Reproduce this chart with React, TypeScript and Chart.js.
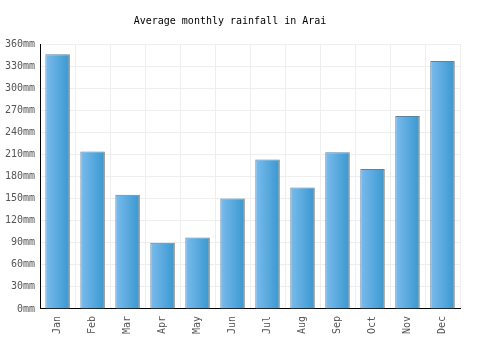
import React, { useEffect, useRef } from "react";
import { Chart, registerables } from "chart.js";

Chart.register(...registerables);

const months = ["Jan", "Feb", "Mar", "Apr", "May", "Jun", "Jul", "Aug", "Sep", "Oct", "Nov", "Dec"];
const rainfall = [346, 214, 155, 90, 97, 150, 203, 165, 213, 190, 262, 337];
const titleText = "Average monthly rainfall in Arai";

export default function App() {
  const ref = useRef<HTMLCanvasElement | null>(null);
  useEffect(() => {
    document.body.style.margin = "0";
    const canvas = ref.current!;
    const font = "'DejaVu Sans Mono', monospace";
    const chart = new Chart(canvas, {
      type: "bar",
      data: {
        labels: months,
        datasets: [
          {
            data: rainfall,
            backgroundColor: (ctx: any) => {
              const c = ctx.chart;
              const xs = c.scales?.x;
              if (!xs || ctx.dataIndex === undefined) return "#55a7dd";
              const cx = xs.getPixelForValue(ctx.dataIndex);
              const w = (xs.width / months.length) * 0.7;
              if (!isFinite(cx) || !isFinite(w) || w <= 0) return "#55a7dd";
              const g = c.ctx.createLinearGradient(cx - w / 2, 0, cx + w / 2, 0);
              g.addColorStop(0, "#7cbbec");
              g.addColorStop(1, "#3898d0");
              return g;
            },
            borderColor: "#7a7a7a",
            borderWidth: 1,
            barPercentage: 0.7,
            categoryPercentage: 1,
          },
        ],
      },
      options: {
        animation: false,
        responsive: false,
        layout: { padding: { left: 0, right: 40, top: 0, bottom: 9 } },
        plugins: {
          legend: { display: false },
          tooltip: { enabled: false },
          title: {
            display: true,
            text: titleText,
            color: "#000",
            font: { family: font, size: 10, weight: "normal" },
            padding: { top: 15, bottom: 17 },
          },
        },
        scales: {
          x: {
            grid: { color: "#eeeeee", offset: true, drawTicks: false },
            border: { color: "#000", width: 1 },
            ticks: {
              color: "#555",
              font: { family: font, size: 10 },
              maxRotation: 90,
              minRotation: 90,
              padding: 7,
            },
          },
          y: {
            min: 0,
            max: 360,
            grid: { color: "#eeeeee", drawTicks: false },
            border: { color: "#000", width: 1 },
            ticks: {
              stepSize: 30,
              color: "#555",
              font: { family: font, size: 10 },
              padding: 5,
              callback: (v: any) => v + "mm",
            },
          },
        },
      },
    });
    chart.update();
    return () => chart.destroy();
  }, []);
  return (
    <div style={{ width: 500, height: 350 }}>
      <canvas ref={ref} width={500} height={350} style={{ display: "block" }} />
    </div>
  );
}
